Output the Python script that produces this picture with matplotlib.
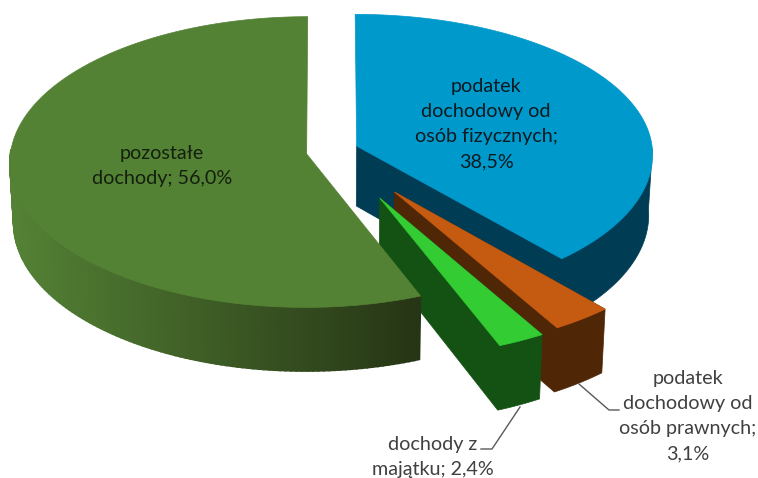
import numpy as np
import matplotlib
matplotlib.use('Agg')
import matplotlib.pyplot as plt
from matplotlib.colors import to_rgb

labels = ['podatek\ndochodowy od\nosób fizycznych;\n38,5%',
          'podatek\ndochodowy od\nosób prawnych;\n3,1%',
          'dochody z\nmajątku; 2,4%',
          'pozostałe\ndochody; 56,0%']
shares = [38.5, 3.1, 2.4, 56.0]

top_colors = ['#0099CC', '#C55A11', '#33CC33', '#548235']
side_colors = ['#003C54', '#4F2606', '#145214', '#263515']
explode = [0.10, 0.36, 0.37, 0.07]
nudge_x = [0, 2, 2, -2]
nudge_y = [-1, -3, -3, 0]
back_scale = [0.965, 1, 1, 1]

CX, CY = 329, 152
RX, RY = 296, 144.7
K = 0.056
DEPTH = 60
BOTTOM_SCALE = 0.988


def project(u, v, i, bottom=False):
    s = 1 / (1 - K * v)
    x = CX + RX * u * s
    ry = np.where(v < 0, RY * back_scale[i], RY)
    y = CY + ry * v * s
    if bottom:
        x = CX + (x - CX) * BOTTOM_SCALE
        y = y + DEPTH * s
    return x + nudge_x[i], y + nudge_y[i]


fig = plt.figure(figsize=(7.58, 4.78), dpi=100)
ax = fig.add_axes([0, 0, 1, 1])
ax.set_xlim(0, 758)
ax.set_ylim(478, 0)
ax.axis('off')

edges = np.deg2rad(np.concatenate([[0], np.cumsum(shares)]) * 3.6)

for i in range(len(shares)):
    a0, a1 = edges[i], edges[i + 1]
    mid = (a0 + a1) / 2
    off_u, off_v = explode[i] * np.sin(mid), -explode[i] * np.cos(mid)
    a = np.linspace(a0, a1, 200)
    u, v = off_u + np.sin(a), off_v - np.cos(a)

    xt, yt = project(u, v, i)
    xb, yb = project(u, v, i, True)
    xa, ya = project(off_u, off_v, i)
    xa_b, ya_b = project(off_u, off_v, i, True)

    # the wall only exists where the rim faces the viewer
    front = np.where(v > -0.02)[0]
    if i == 3:
        # only the big slice has the gradient on its wall
        c_left = np.array(to_rgb('#548235'))
        c_right = np.array(to_rgb(side_colors[i]))
        for j in front[:-1]:
            f = np.clip((xt[j] - 10) / 410, 0, 1)
            ax.fill([xt[j], xt[j + 1], xb[j + 1], xb[j]],
                    [yt[j], yt[j + 1], yb[j + 1], yb[j]],
                    color=c_left + (c_right - c_left) * f, lw=1.2)
    else:
        # walls as one outline so no seam shows between them
        ax.fill(np.concatenate([[xa, xt[front[0]]], xb[front], [xa_b]]),
                np.concatenate([[ya, yt[front[0]]], yb[front], [ya_b]]),
                color=side_colors[i], lw=0.5)

    ax.fill(np.concatenate([[xa], xt]), np.concatenate([[ya], yt]),
            color=top_colors[i], lw=0.5)

# leader lines
ax.plot([579, 609, 619], [384, 410, 410], color='#595959', lw=1)
ax.plot([520, 492, 481], [407, 449, 449], color='#595959', lw=1)

font = dict(family='Lato', fontsize=14.2, ha='center', va='center', linespacing=1.57)
ax.text(486, 124, labels[0], color='#0D1A20', **font)
ax.text(688, 416, labels[1], color='#404040', **font)
ax.text(433, 457, labels[2], color='#404040', **font)
ax.text(162, 166, labels[3], color='#141F0D', **font)

fig.savefig('out.png', dpi=100)
